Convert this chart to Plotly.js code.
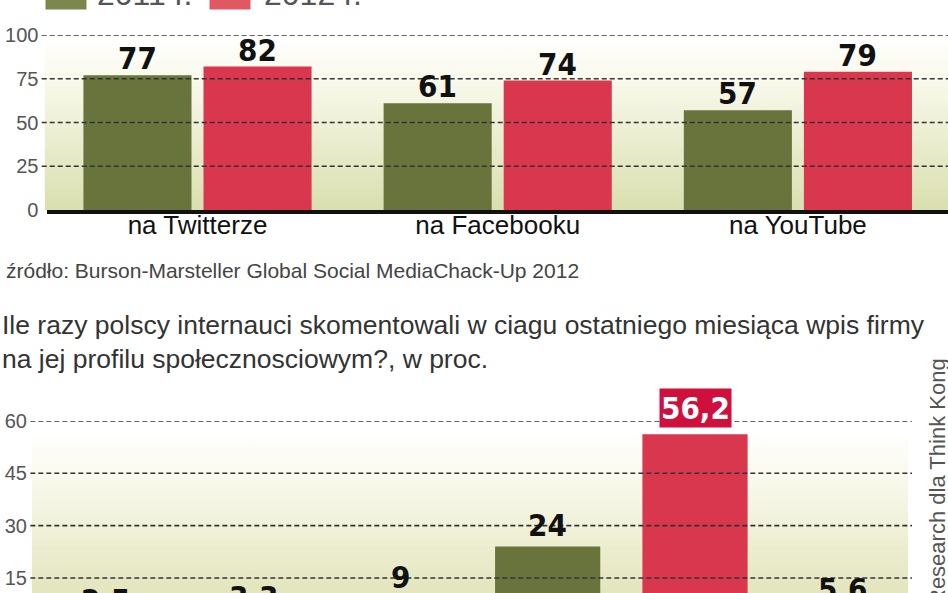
<!DOCTYPE html>
<html>
<head>
<meta charset="utf-8">
<script src="https://cdn.plot.ly/plotly-3.0.1.min.js"></script>
<style>
html,body{margin:0;padding:0;overflow:hidden;background:#fff;width:948px;height:593px;}
#chart{position:absolute;left:0;top:-20px;width:948px;height:680px;}
</style>
</head>
<body>
<div id="chart"></div>
<script>
// ---- data ----
const years = ['2011 r.', '2012 r.'];
const platforms = ['na Twitterze', 'na Facebooku', 'na YouTube'];
const share2011 = [77, 61, 57];
const share2012 = [82, 74, 79];
const topTicks = [0, 25, 50, 75, 100];

const commentGroups = ['g1', 'g2', 'g3', 'g4', 'g5', 'g6']; // labels not visible in the crop
const commentShare = [2.5, 3.3, 9, 24, 56.2, 5.6];
const bottomTicks = [0, 15, 30, 45, 60];

const sourceText = 'źródło: Burson-Marsteller Global Social MediaChack-Up 2012';
const questionText = 'Ile razy polscy internauci skomentowali w ciagu ostatniego miesiąca wpis firmy<br>na jej profilu społecznosciowym?, w proc.';
const creditText = 'Research dla Think Kong';

// ---- styling ----
const green = '#68743c', red = '#d8374d';
const legendGreen = '#7b874c', legendRed = '#e05861';
const numFont = {family: '"Liberation Sans Narrow", "DejaVu Sans Condensed", "Arial Narrow", sans-serif', size: 31, color: '#111', weight: 'bold'};
const H = 680;
const py = v => 1 - v / H; // figure px -> paper

function gradient(c) {
  const svg = '<svg xmlns="http://www.w3.org/2000/svg" width="100" height="100" preserveAspectRatio="none">' +
    '<defs><linearGradient id="g" x1="0" y1="0" x2="0" y2="1"><stop offset="0" stop-color="#fefefb"/>' +
    '<stop offset="0.25" stop-color="#f8f8ea"/>' +
    '<stop offset="1" stop-color="' + c + '"/></linearGradient></defs><rect width="100" height="100" fill="url(#g)"/></svg>';
  return 'data:image/svg+xml;base64,' + btoa(svg);
}
const fmt = v => String(v).replace('.', ',');

const traces = [
  {type: 'bar', name: years[0], x: platforms, y: share2011, marker: {color: green}, width: 0.36, offset: -0.38, xaxis: 'x', yaxis: 'y', hoverinfo: 'none'},
  {type: 'bar', name: years[1], x: platforms, y: share2012, marker: {color: red}, width: 0.36, offset: 0.02, xaxis: 'x', yaxis: 'y', hoverinfo: 'none'},
  {type: 'bar', x: commentGroups, y: commentShare,
   marker: {color: commentShare.map(v => v === Math.max(...commentShare) ? red : green)},
   width: 0.714, xaxis: 'x2', yaxis: 'y2', hoverinfo: 'none'}
];

const annotations = [];
platforms.forEach((p, j) => {
  [share2011, share2012].forEach((arr, i) => {
    annotations.push({xref: 'x', yref: 'y', x: j + (i === 0 ? -0.2 : 0.2), y: arr[j], yshift: 17, yanchor: 'middle',
      text: fmt(arr[j]), showarrow: false, font: numFont});
  });
});
const maxV = Math.max(...commentShare);
commentShare.forEach((v, j) => {
  const hi = v === maxV;
  annotations.push({xref: 'x2', yref: 'y2', x: j, y: v, yshift: hi ? 26 : 22, yanchor: 'middle',
    text: fmt(v), showarrow: false,
    font: Object.assign({}, numFont, hi ? {color: '#fff'} : {}),
    bgcolor: hi ? '#cf0f3c' : 'rgba(0,0,0,0)', borderpad: 1});
});
// legend (drawn as annotations to get the large swatches)
[[years[0], legendGreen, 66, 95], [years[1], legendRed, 230, 262]].forEach(([t, c, bx, tx]) => {
  annotations.push({xref: 'paper', yref: 'paper', x: bx / 948, y: py(16), xanchor: 'center', yanchor: 'middle',
    text: ' ', width: 38, height: 24, bgcolor: c, showarrow: false});
  annotations.push({xref: 'paper', yref: 'paper', x: tx / 948, y: py(14), xanchor: 'left', yanchor: 'middle',
    text: t, showarrow: false, font: {family: 'Liberation Sans, sans-serif', size: 32, color: '#555'}});
});
annotations.push({xref: 'paper', yref: 'paper', x: 0.004, y: py(290), xanchor: 'left', yanchor: 'middle',
  text: sourceText, showarrow: false, font: {family: 'Liberation Sans, sans-serif', size: 21, color: '#444'}});
annotations.push({xref: 'paper', yref: 'paper', x: 0, y: py(328), xanchor: 'left', yanchor: 'top', align: 'left',
  text: questionText, showarrow: false, font: {family: 'Liberation Sans, sans-serif', size: 26.5, color: '#333'}});
annotations.push({xref: 'paper', yref: 'paper', x: 937 / 948, y: py(502), xanchor: 'center', yanchor: 'middle',
  text: creditText, textangle: -90, showarrow: false, font: {family: 'Liberation Sans, sans-serif', size: 22, color: '#555'}});

const dashLine = {color: '#333', width: 1.6, dash: '5px,3px'};
const shapes = [];
topTicks.filter(t => t > 0).forEach(t => shapes.push({type: 'line', xref: 'paper', yref: 'y', x0: 0.044, x1: 1, y0: t, y1: t, line: dashLine, layer: 'above'}));
bottomTicks.filter(t => t > 0).forEach(t => shapes.push({type: 'line', xref: 'paper', yref: 'y2', x0: 0.032, x1: 0.962, y0: t, y1: t, line: dashLine, layer: 'above'}));

const tickFont = {family: 'Liberation Sans, sans-serif', size: 20, color: '#555'};
const layout = {
  width: 948, height: H,
  margin: {l: 0, r: 0, t: 0, b: 0},
  paper_bgcolor: '#fff', plot_bgcolor: 'rgba(0,0,0,0)',
  showlegend: false, barmode: 'group',
  xaxis: {domain: [0.05, 1], range: [-0.5, 2.5], anchor: 'y', showgrid: false, showline: true, linewidth: 3.5, linecolor: '#111',
    tickfont: {family: 'Liberation Sans, sans-serif', size: 26, color: '#111'}, ticks: '', ticklabelstandoff: -11, fixedrange: true},
  yaxis: {domain: [py(230), py(55)], range: [0, 100], anchor: 'x', tickvals: topTicks, showgrid: false, zeroline: false,
    tickfont: tickFont, ticks: '', ticklabelstandoff: 8, fixedrange: true},
  xaxis2: {domain: [32 / 948, 916 / 948], range: [-0.5, 5.5], anchor: 'y2', showgrid: false, showticklabels: false, ticks: '', fixedrange: true},
  yaxis2: {domain: [py(650.3), py(441)], range: [0, 60], anchor: 'x2', tickvals: bottomTicks, showgrid: false, zeroline: false,
    tickfont: tickFont, ticks: '', ticklabelstandoff: 4, fixedrange: true},
  images: [
    {source: gradient('#d9dfae'), xref: 'paper', yref: 'paper', x: 0.047, y: py(62), sizex: 0.953, sizey: py(62) - py(230),
     sizing: 'stretch', xanchor: 'left', yanchor: 'top', layer: 'below'},
    {source: gradient('#dcdfae'), xref: 'paper', yref: 'paper', x: 32 / 948, y: py(457), sizex: (908 - 32) / 948, sizey: py(457) - py(650.3),
     sizing: 'stretch', xanchor: 'left', yanchor: 'top', layer: 'below'}
  ],
  shapes: shapes,
  annotations: annotations
};

Plotly.newPlot('chart', traces, layout, {displayModeBar: false, staticPlot: true});
</script>
</body>
</html>
